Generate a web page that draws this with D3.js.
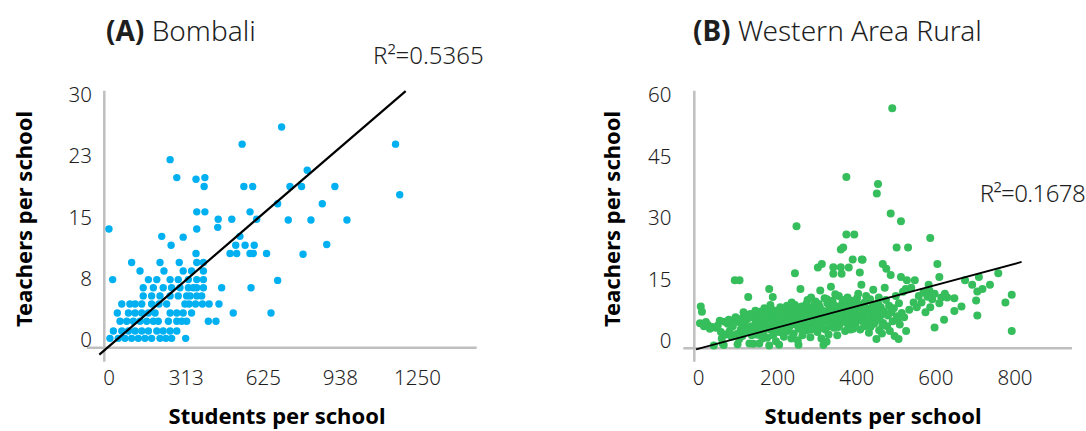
<!DOCTYPE html>
<html>
<head>
<meta charset="utf-8">
<script src="https://cdn.jsdelivr.net/npm/d3@7"></script>
<style>
  html, body { margin: 0; padding: 0; background: #ffffff; }
  svg { display: block; }
</style>
</head>
<body>
<svg id="chart" width="1086" height="431"></svg>
<script>
// ---- data (students per school, teachers per school) ----
const bombaliPoints = [
  [5,1.0],[39,1.0],[66,1.0],[93,1.0],[120,1.0],[147,1.0],[174,1.0],[208,1.0],[232,1.0],[255,1.0],[312,1.0],
  [19,1.9],[53,1.9],[80,1.9],[107,1.9],[134,1.9],[161,1.9],[195,1.9],[221,1.9],[249,1.9],[276,1.9],
  [46,3.1],[73,3.1],[100,3.1],[127,3.1],[154,3.1],[181,3.1],[201,3.1],[242,3.1],[276,3.1],[296,3.1],[316,3.1],[404,3.1],[435,3.1],
  [35,4.1],[80,4.1],[107,4.1],[134,4.1],[161,4.1],[188,4.1],[249,4.1],[276,4.1],[302,4.1],[336,4.1],[505,4.1],[658,4.1],
  [53,5.2],[86,5.2],[107,5.2],[134,5.2],[174,5.2],[204,5.2],[235,5.2],[309,5.2],[326,5.2],[352,5.2],[380,5.2],[407,5.2],[447,5.2],
  [140,6.2],[174,6.2],[208,6.2],[249,6.2],[282,6.2],[316,6.2],[330,6.2],[357,6.2],[377,6.2],
  [140,7.2],[181,7.2],[221,7.2],[255,7.2],[289,7.2],[323,7.2],[343,7.2],[357,7.2],[384,7.2],[458,7.2],[577,7.2],
  [16,8.2],[161,8.2],[195,8.2],[249,8.2],[282,8.2],[323,8.2],[357,8.2],[384,8.2],[685,8.1],
  [127,9.25],[224,9.25],[302,9.25],[336,9.25],[384,9.25],
  [93,10.3],[208,10.3],[286,10.3],[357,10.3],[384,10.3],
  [354,11.4],[492,11.4],[519,11.4],[573,11.4],[586,11.4],[640,11.4],[788,11.3],
  [253,12.4],[515,12.4],[553,12.4],[590,12.4],[884,12.5],
  [215,13.5],[302,13.4],[532,13.5],
  [1,14.4],[357,14.4],[442,14.6],
  [444,15.6],[499,15.6],[600,15.6],[728,15.5],[820,15.5],[966,15.5],
  [357,16.5],[390,16.5],[573,16.5],
  [685,17.5],[866,17.5],
  [1180,18.6],
  [387,19.6],[548,19.6],[584,19.6],[735,19.6],[782,19.6],[917,19.6],
  [276,20.7],[354,20.5],[390,20.7],
  [805,21.6],
  [249,22.9],
  [541,24.8],[1163,24.8],
  [701,26.9]
];
const bombaliXTicks = [0, 312.5, 625, 937.5, 1250];
const bombaliXLabels = ["0", "313", "625", "938", "1250"];
const bombaliYTicks = [0, 7.5, 15, 22.5, 30];
const bombaliYLabels = ["0", "8", "15", "23", "30"];
const bombaliTrend = [0.026, 0.0];      // slope, intercept
const bombaliTrendX = [-38, 1204];
const bombaliR2 = "R²=0.5365";

const westernPoints = [
  [10,8.7],[7,10],[5,5.9],[15,5.2],[25,5.5],[35,5.0],[40,0.5],[45,4.8],[55,6.5],[60,2.2],[62,1],[68,6.3],
  [72,3.2],[75,5.8],[80,4],[85,2.6],[90,6.6],[93,16.4],[98,3.3],[100,0.8],[102,6.2],[105,16.4],[108,4.4],
  [110,7],[112,2.8],[115,8.6],[118,5.5],[122,6.8],[125,3.8],[127,12.3],[130,1],[132,8.2],[135,5.2],[138,7.4],
  [140,0.9],[142,4.6],[145,9],[148,6],[150,3.1],[152,7.8],[155,1],[157,5.4],[160,8.8],[162,6.4],[165,3.6],
  [168,9.6],[170,7.2],[172,5],[175,2.4],[177,8.4],[180,14.3],[180,0.5],[182,6.7],[185,4.3],[187,9.2],[189,12.3],
  [190,3],[192,7.6],[195,5.6],[197,1.5],[200,8],[202,6.2],[205,0.7],[205,3.8],[208,9.8],[210,7],[212,4.8],
  [215,5.8],[217,2.6],[220,8.6],[222,6.8],[225,10.2],[227,4],[230,7.4],[232,5.2],[234,9.2],[236,2.2],[238,6.4],
  [240,8],[242,3.4],[245,18.1],[245,10.4],[247,5.6],[249,29.6],[250,7.2],[252,1.8],[254,0.7],[255,4.6],[257,8.8],
  [259,14.3],[260,6],[262,10],[264,3],[265,7.8],[268,5.2],[270,9.4],[272,6.6],[275,4.2],[277,11.6],[280,8.2],
  [282,5.8],[284,2.5],[286,12.2],[288,7],[290,9.8],[292,4.8],[295,6.4],[297,11.2],[300,8.6],[302,3.8],[303,19.5],
  [305,10.6],[307,5.4],[309,13.9],[310,7.6],[312,2.2],[313,20.4],[315,9],[317,0.6],[318,6.2],[320,12],[322,4.4],
  [324,8],[325,1.4],[327,10.8],[328,6.8],[330,3.2],[332,9.4],[334,5.2],[336,14.8],[338,7.4],[340,11.4],[342,18],
  [342,19.6],[344,4.8],[345,8.8],[347,13],[348,6.2],[350,10],[352,3],[354,7.8],[356,12.6],[358,5.6],[359,9.4],
  [361,23.9],[361,19.6],[363,18],[365,11],[367,24.4],[368,6.8],[370,8.6],[372,4],[374,10.6],[375,41.6],[375,27.6],
  [376,7.2],[378,12.2],[380,5.2],[381,19.5],[383,9.6],[385,6],[387,11.4],[389,8],[391,21.5],[392,4.6],[394,7],
  [395,27.6],[396,10.4],[398,5.8],[400,8.8],[402,12],[404,6.6],[405,13.1],[407,9.6],[409,18.3],[410,4.4],
  [413,15.3],[414,21.5],[415,7.4],[416,21.4],[418,10.6],[420,5.2],[422,8.2],[425,12.6],[427,6.4],[430,9.4],
  [432,3.6],[435,11.8],[438,7.2],[440,9.2],[443,14.1],[445,5.8],[447,8.4],[450,6.6],[451,2.1],[452,37.6],
  [455,39.9],[455,10.8],[458,4.2],[460,7.6],[462,9.8],[465,3.4],[467,20.4],[468,6],[470,8.8],[472,14.6],
  [475,11.6],[476,19.2],[478,5.2],[480,7.8],[483,10.2],[485,4],[487,17.7],[487,32.7],[488,8.6],[491,58.4],
  [492,6.4],[495,9.6],[497,2.8],[500,12.6],[502,24.4],[503,7.6],[505,7],[507,2.1],[508,10.8],[510,5.6],
  [513,30.8],[513,17.2],[515,8.4],[518,13.6],[521,7.4],[525,14.3],[526,4],[528,16.4],[531,24.4],[534,9.2],
  [539,14.6],[545,11],[548,16.4],[553,9.8],[558,12.6],[565,11],[570,13.4],[575,8.6],[580,12.4],[583,15.3],
  [585,13.9],[587,26.7],[587,9.8],[592,11.8],[598,13.1],[598,4.9],[605,20.4],[610,17.2],[610,10.8],[615,12.2],
  [622,6.8],[624,13.1],[630,12.2],[648,12],[648,8.9],[666,10],[675,16.4],[693,15.3],[703,11.5],[706,13.7],
  [706,7.8],[710,17.2],[719,14.3],[738,15.3],[759,18.1],[777,11],[793,12.9],[793,4],
  // denser core of the cloud
  [20,6.2],[30,4.6],[50,5.4],[58,3.8],[65,0.6],[78,6.8],[88,5.2],[95,7.4],[104,2],[113,5.8],[120,4.2],
  [128,7.2],[136,3],[146,6.6],[154,4.8],[158,7],[163,2.2],[167,5.8],[173,8],[178,4.6],[183,10.4],[188,6],
  [193,4.2],[198,9],[203,7.2],[207,5.2],[213,8.4],[218,4.4],[223,6.2],[228,8.2],[233,6.8],[237,11],[243,7],
  [248,9.6],[253,5.2],[258,6.8],[263,8.6],[267,4],[271,7.4],[274,10.6],[279,6.4],[283,9],[287,4.4],[291,8],
  [294,10.4],[299,5.8],[304,7],[308,9.8],[314,4.8],[319,8.4],[323,6.4],[326,11.8],[331,7.8],[335,9.8],
  [339,5.6],[343,10.4],[346,7.2],[351,8.4],[355,5],[360,7.4],[364,9.2],[369,11.6],[373,6.2],[377,9],
  [382,7.8],[386,4.4],[390,10.2],[393,8.4],[397,6.4],[401,10.8],[406,7.6],[411,9],[417,6.4],[421,11],
  [426,8.8],[431,7.8],[436,5],[441,10.4],[446,7.6],[453,9],[457,12.2],[463,8],[466,5.4]
];
const westernXTicks = [0, 200, 400, 600, 800];
const westernXLabels = ["0", "200", "400", "600", "800"];
const westernYTicks = [0, 15, 30, 45, 60];
const westernYLabels = ["0", "15", "30", "45", "60"];
const westernTrend = [0.0259, -0.31];
const westernTrendX = [-5, 818];
const westernR2 = "R²=0.1678";

const FONT = '"Noto Sans", "Open Sans", "DejaVu Sans", sans-serif';
const AXIS_GREY = "#bfbfbf";
const TEXT = "#1e1e1e";

const svg = d3.select("#chart");

function drawPanel(p) {
  const x = d3.scaleLinear().domain(p.xDomain).range(p.xRange);
  const y = d3.scaleLinear().domain(p.yDomain).range(p.yRange);
  const g = svg.append("g");

  // axis lines (gray, Excel style: y axis runs below the x axis)
  g.append("line")
    .attr("x1", p.yAxisX).attr("x2", p.yAxisX)
    .attr("y1", p.yAxisTop).attr("y2", p.yAxisBottom)
    .attr("stroke", AXIS_GREY).attr("stroke-width", 2.5);
  g.append("line")
    .attr("x1", p.xAxisLeft).attr("x2", p.xAxisRight)
    .attr("y1", p.xAxisY).attr("y2", p.xAxisY)
    .attr("stroke", AXIS_GREY).attr("stroke-width", 2.5);

  // y ticks: baseline sits on the tick value
  const yG = g.append("g")
    .attr("transform", `translate(${p.yLabelRight},0)`)
    .call(d3.axisLeft(y).tickValues(p.yTicks)
      .tickFormat((d, i) => p.yLabels[i]).tickSize(0).tickPadding(0));
  yG.select(".domain").remove();
  yG.attr("font-family", FONT).attr("font-size", 20.5);
  yG.selectAll("text").attr("dy", "0").attr("fill", TEXT).attr("font-weight", 300);

  const xG = g.append("g")
    .attr("transform", `translate(0,370)`)
    .call(d3.axisBottom(x).tickValues(p.xTicks)
      .tickFormat((d, i) => p.xLabels[i]).tickSize(0).tickPadding(0));
  xG.select(".domain").remove();
  xG.attr("font-family", FONT).attr("font-size", 20.5);
  xG.selectAll("text").attr("fill", TEXT).attr("font-weight", 300);

  // points
  g.append("g")
    .selectAll("circle")
    .data(p.points)
    .join("circle")
    .attr("cx", (d) => x(d[0]))
    .attr("cy", (d) => y(d[1]))
    .attr("r", p.radius)
    .attr("fill", p.color);

  // trendline
  const [slope, icpt] = p.trend;
  g.append("line")
    .attr("x1", x(p.trendX[0])).attr("y1", y(slope * p.trendX[0] + icpt))
    .attr("x2", x(p.trendX[1])).attr("y2", y(slope * p.trendX[1] + icpt))
    .attr("stroke", "#000").attr("stroke-width", p.trendWidth);

  g.append("text")
    .attr("x", p.r2Pos[0]).attr("y", p.r2Pos[1])
    .attr("text-anchor", p.r2Anchor)
    .attr("font-family", FONT).attr("font-size", 24).attr("font-weight", 300)
    .attr("letter-spacing", p.r2Spacing)
    .attr("fill", TEXT)
    .text(p.r2);

  // title
  const t = g.append("text")
    .attr("x", p.titleX).attr("y", 41)
    .attr("font-family", FONT).attr("font-size", 28).attr("fill", TEXT);
  t.append("tspan").attr("font-weight", 700).text(p.tag);
  t.append("tspan").attr("font-weight", 300).text(" " + p.name);

  // axis titles
  g.append("text")
    .attr("x", p.xTitleX).attr("y", 424)
    .attr("text-anchor", "middle")
    .attr("font-family", FONT).attr("font-size", 22).attr("font-weight", 700)
    .attr("fill", "#000")
    .text("Students per school");
  g.append("text")
    .attr("transform", `translate(${p.yTitleX},219) rotate(-90)`)
    .attr("text-anchor", "middle")
    .attr("font-family", FONT).attr("font-size", 22).attr("font-weight", 700)
    .attr("fill", "#000")
    .text("Teachers per school");
}

drawPanel({
  points: bombaliPoints, color: "#00b0f0", radius: 3.7,
  xDomain: [0, 1250], xRange: [108.7, 417],
  yDomain: [0, 30], yRange: [346.5, 101.7],
  xTicks: bombaliXTicks, xLabels: bombaliXLabels,
  yTicks: bombaliYTicks, yLabels: bombaliYLabels,
  yAxisX: 104.3, yAxisTop: 90.7, yAxisBottom: 361.7,
  xAxisY: 347.7, xAxisLeft: 86.7, xAxisRight: 476.7,
  yLabelRight: 92,
  trend: bombaliTrend, trendX: bombaliTrendX, trendWidth: 2.2,
  r2: bombaliR2, r2Pos: [373, 64], r2Anchor: "start", r2Spacing: 0,
  tag: "(A)", name: "Bombali", titleX: 106,
  xTitleX: 277, yTitleX: 32
});

drawPanel({
  points: westernPoints, color: "#35be5b", radius: 4.0,
  xDomain: [0, 800], xRange: [698, 1014.5],
  yDomain: [0, 60], yRange: [347.5, 101.7],
  xTicks: westernXTicks, xLabels: westernXLabels,
  yTicks: westernYTicks, yLabels: westernYLabels,
  yAxisX: 694.3, yAxisTop: 90.7, yAxisBottom: 361.7,
  xAxisY: 348.3, xAxisLeft: 683.3, xAxisRight: 1072,
  yLabelRight: 671.5,
  trend: westernTrend, trendX: westernTrendX, trendWidth: 1.8,
  r2: westernR2, r2Pos: [1085, 201.5], r2Anchor: "end", r2Spacing: -0.6,
  tag: "(B)", name: "Western Area Rural", titleX: 693,
  xTitleX: 873, yTitleX: 620
});
</script>
</body>
</html>
